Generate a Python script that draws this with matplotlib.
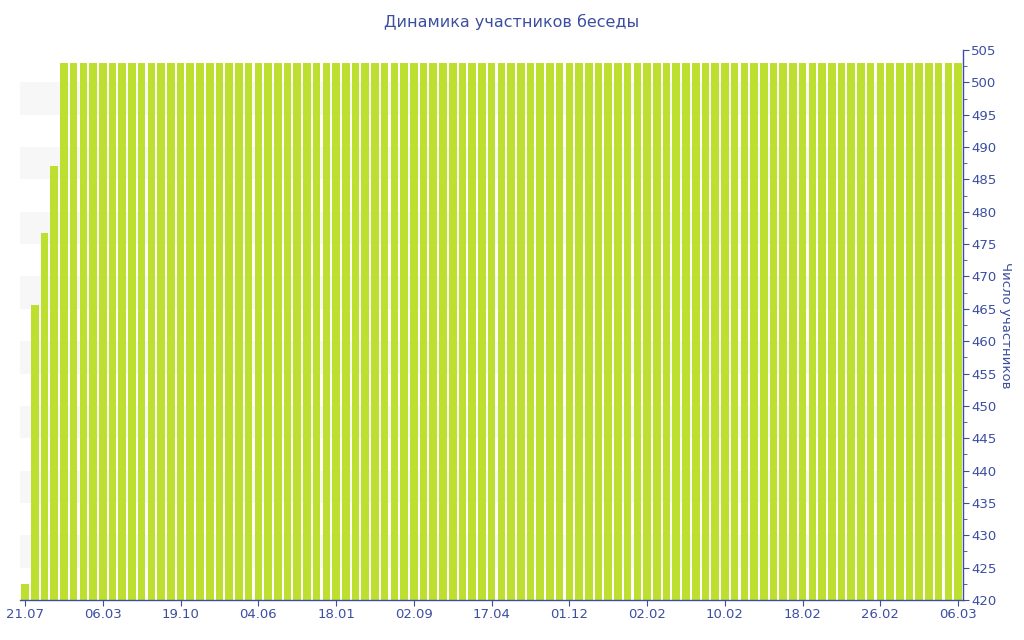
import matplotlib.pyplot as plt
from matplotlib.ticker import MultipleLocator

# значения столбцов (число участников)
first_values = [422.5, 465.6, 476.7, 487.0]
plateau_value = 503
plateau_count = 93
values = first_values + [plateau_value] * plateau_count

tick_labels = ['21.07', '06.03', '19.10', '04.06', '18.01', '02.09', '17.04',
               '01.12', '02.02', '10.02', '18.02', '26.02', '06.03']
tick_step = 8

blue = '#3c4ea0'
green = '#bde030'

fig = plt.figure(figsize=(10.24, 6.4), dpi=100)
ax = fig.add_axes([20 / 1024, 40 / 640, 943 / 1024, 550 / 640])

# чередующиеся полосы фона
for lo in range(425, 500, 10):
    ax.axhspan(lo, lo + 5, color='#f7f7f7', zorder=0, lw=0)

x = list(range(len(values)))
ax.bar(x, values, width=0.78, color=green, linewidth=0, zorder=2)

ax.set_xlim(-0.52, len(values) - 0.5)
ax.set_ylim(420, 505)

ax.set_xticks(x[::tick_step])
ax.set_xticklabels(tick_labels)

ax.yaxis.tick_right()
ax.yaxis.set_label_position('right')
ax.yaxis.set_major_locator(MultipleLocator(5))
ax.yaxis.set_minor_locator(MultipleLocator(2.5))

for side in ['top', 'left']:
    ax.spines[side].set_visible(False)
for side in ['bottom', 'right']:
    ax.spines[side].set_color(blue)
    ax.spines[side].set_linewidth(1)

ax.tick_params(axis='both', colors=blue, labelsize=9.5, length=4, width=0.8)
ax.tick_params(axis='y', which='minor', colors=blue, length=3, width=0.6)
ax.tick_params(axis='y', pad=2)
ax.tick_params(axis='x', pad=2)

ax.set_ylabel('Число участников', color=blue, fontsize=9.5, rotation=270, labelpad=11)
fig.suptitle('Динамика участников беседы', color=blue, fontsize=11.5, y=0.978)

fig.savefig('out.png', dpi=100)
plt.close(fig)
